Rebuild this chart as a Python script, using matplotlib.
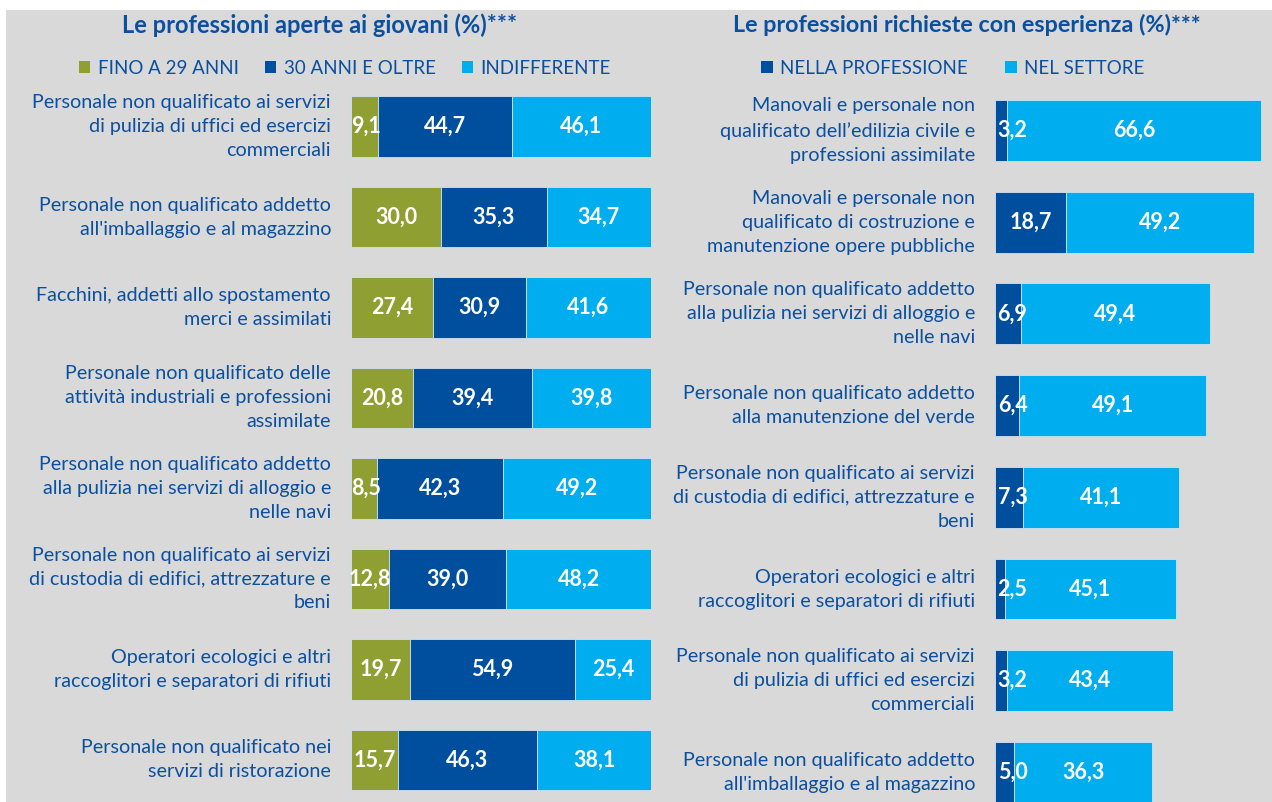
import matplotlib
matplotlib.use('Agg')
import matplotlib.pyplot as plt
from matplotlib.patches import Rectangle, Patch

plt.rcParams['font.family'] = ['Lato', 'DejaVu Sans']

# left panel: age
left_cats = [
    "Personale non qualificato ai servizi\ndi pulizia di uffici ed esercizi\ncommerciali",
    "Personale non qualificato addetto\nall'imballaggio e al magazzino",
    "Facchini, addetti allo spostamento\nmerci e assimilati",
    "Personale non qualificato delle\nattività industriali e professioni\nassimilate",
    "Personale non qualificato addetto\nalla pulizia nei servizi di alloggio e\nnelle navi",
    "Personale non qualificato ai servizi\ndi custodia di edifici, attrezzature e\nbeni",
    "Operatori ecologici e altri\nraccoglitori e separatori di rifiuti",
    "Personale non qualificato nei\nservizi di ristorazione",
]
fino_29 = [9.1, 30.0, 27.4, 20.8, 8.5, 12.8, 19.7, 15.7]
oltre_30 = [44.7, 35.3, 30.9, 39.4, 42.3, 39.0, 54.9, 46.3]
indiff = [46.1, 34.7, 41.6, 39.8, 49.2, 48.2, 25.4, 38.1]
left_series = ["FINO A 29 ANNI", "30 ANNI E OLTRE", "INDIFFERENTE"]

# right panel: experience
right_cats = [
    "Manovali e personale non\nqualificato dell\u2019edilizia civile e\nprofessioni assimilate",
    "Manovali e personale non\nqualificato di costruzione e\nmanutenzione opere pubbliche",
    "Personale non qualificato addetto\nalla pulizia nei servizi di alloggio e\nnelle navi",
    "Personale non qualificato addetto\nalla manutenzione del verde",
    "Personale non qualificato ai servizi\ndi custodia di edifici, attrezzature e\nbeni",
    "Operatori ecologici e altri\nraccoglitori e separatori di rifiuti",
    "Personale non qualificato ai servizi\ndi pulizia di uffici ed esercizi\ncommerciali",
    "Personale non qualificato addetto\nall'imballaggio e al magazzino",
]
nella_prof = [3.2, 18.7, 6.9, 6.4, 7.3, 2.5, 3.2, 5.0]
nel_settore = [66.6, 49.2, 49.4, 49.1, 41.1, 45.1, 43.4, 36.3]
right_series = ["NELLA PROFESSIONE", "NEL SETTORE"]

GREEN = '#8f9f32'
DARK = '#004f9f'
LIGHT = '#00aeef'
TXT = '#0b4f9f'
BG = '#d9d9d9'

W, H = 1272, 802
fig = plt.figure(figsize=(W / 100, H / 100), dpi=100, facecolor='white')
fig.patches.append(Rectangle((6 / W, 0), 1, (H - 10) / H, transform=fig.transFigure,
                             facecolor=BG, edgecolor='none', zorder=-10))


def px_axes(x0, x1, ytop, ybot):
    return fig.add_axes([x0 / W, 1 - ybot / H, (x1 - x0) / W, (ybot - ytop) / H])


def draw_panel(ax, cats, series, colors, xmax, bar_h, min_half):
    n = len(cats)
    ys = list(range(n))
    left = [0.0] * n
    for vals, c in zip(series, colors):
        ax.barh(ys, vals, left=left, height=bar_h, color=c, edgecolor='#cfe3f5', linewidth=0.6)
        for y, l, v in zip(ys, left, vals):
            xc = max(l + v / 2, l + min_half)
            ax.text(xc, y, f"{v:.1f}".replace('.', ','), ha='center', va='center',
                    color='white', fontsize=15.5, fontweight='bold')
        left = [a + b for a, b in zip(left, vals)]
    for y, c in zip(ys, cats):
        ax.annotate(c, xy=(0, y), xytext=(-20, 0), textcoords='offset pixels',
                    ha='right', va='center', multialignment='right', color=TXT,
                    fontsize=14.2, linespacing=1.5, annotation_clip=False)
    ax.set_xlim(0, xmax)
    ax.set_ylim(n - 0.5, -0.5)
    ax.axis('off')


# left panel
axl = px_axes(351, 651, 126.5 - 0.5 * 90.5, 126.5 + 7.5 * 90.5)
draw_panel(axl, left_cats, [fino_29, oltre_30, indiff], [GREEN, DARK, LIGHT], 100, 0.67, 5.0)

# right panel
axr = px_axes(995, 995 + 3.81 * 70, 130.5 - 0.5 * 91.7, 130.5 + 7.5 * 91.7)
draw_panel(axr, right_cats, [nella_prof, nel_settore], [DARK, LIGHT], 70, 0.665, 4.6)

fig.text(320 / W, 1 - 25 / H, "Le professioni aperte ai giovani (%)***", ha='center', va='center',
         color=TXT, fontsize=17.0, fontweight='bold')
fig.text(967 / W, 1 - 25 / H, "Le professioni richieste con esperienza (%)***", ha='center', va='center',
         color=TXT, fontsize=16.8, fontweight='bold')

lh = [Patch(facecolor=c, edgecolor='none') for c in [GREEN, DARK, LIGHT]]
fig.legend(lh, left_series, loc='center', bbox_to_anchor=(345 / W, 1 - 68 / H), ncol=3,
           frameon=False, fontsize=13.5, labelcolor=TXT, handlelength=0.6, handleheight=0.6,
           handletextpad=0.4, columnspacing=1.4)
rh = [Patch(facecolor=c, edgecolor='none') for c in [DARK, LIGHT]]
fig.legend(rh, right_series, loc='center', bbox_to_anchor=(953 / W, 1 - 68 / H), ncol=2,
           frameon=False, fontsize=13.5, labelcolor=TXT, handlelength=0.6, handleheight=0.6,
           handletextpad=0.4, columnspacing=2.0)

fig.savefig('out.png', dpi=100, facecolor=fig.get_facecolor())
